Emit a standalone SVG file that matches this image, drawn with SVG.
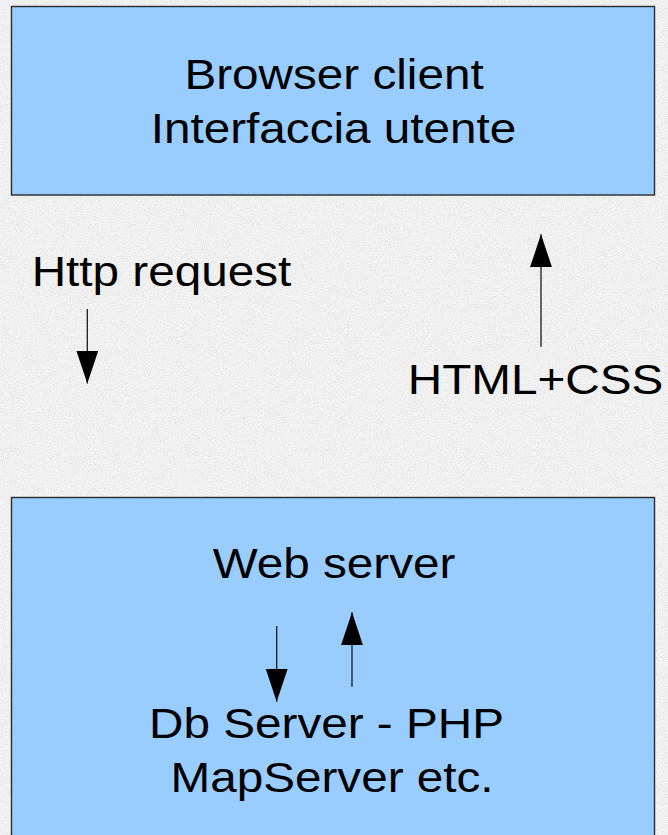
<svg xmlns="http://www.w3.org/2000/svg" width="668" height="835" viewBox="0 0 668 835">
  <style>
    .box { fill: #99ccff; stroke: #2b2b2b; stroke-width: 1.4; }
    .lbl { font-family: "Liberation Sans", Arial, sans-serif; font-size: 42px; fill: #000; text-anchor: middle; }
    .conn { stroke: #1a1a1a; stroke-width: 1.3; fill: none; }
  </style>
  <defs>
    <marker id="head" markerUnits="userSpaceOnUse" markerWidth="34" markerHeight="23" refX="33" refY="11" orient="auto" viewBox="0 0 34 23">
      <path d="M0,0 L33,11 L0,22 Z" fill="#000"/>
    </marker>
    <filter id="grain" x="0" y="0" width="100%" height="100%">
      <feTurbulence type="fractalNoise" baseFrequency="0.85" numOctaves="2" seed="7" result="n"/>
      <feColorMatrix in="n" type="matrix" values="0 0 0 0 0.5  0 0 0 0 0.5  0 0 0 0 0.5  1.2 0 0 0 -0.5"/>
    </filter>
  </defs>

  <rect x="0" y="0" width="668" height="835" fill="#f3f3f3"/>
  <rect x="0" y="0" width="668" height="835" filter="url(#grain)" opacity="0.6"/>

  <g id="browser-client">
    <rect class="box" x="11.5" y="6.5" width="643" height="188.5"/>
    <text class="lbl" transform="translate(334 89) scale(1.135 1)">Browser client</text>
    <text class="lbl" transform="translate(333.5 142.5) scale(1.135 1)">Interfaccia utente</text>
  </g>

  <g id="web-server">
    <rect class="box" x="11.5" y="497.5" width="643" height="345"/>
    <text class="lbl" transform="translate(334 577.5) scale(1.135 1)">Web server</text>
    <text class="lbl" transform="translate(326.5 737.5) scale(1.135 1)">Db Server - PHP</text>
    <text class="lbl" transform="translate(332 792) scale(1.135 1)">MapServer etc.</text>
  </g>

  <g id="label-http-request">
    <text class="lbl" transform="translate(161.5 285.5) scale(1.135 1)">Http request</text>
  </g>
  <g id="label-html-css">
    <text class="lbl" transform="translate(535.5 394) scale(1.135 1)">HTML+CSS</text>
  </g>

  <g id="connectors">
    <line class="conn" x1="87.3" y1="309" x2="87.3" y2="383.5" marker-end="url(#head)"/>
    <line class="conn" x1="541" y1="346.7" x2="541" y2="234.3" marker-end="url(#head)"/>
    <line class="conn" x1="276.7" y1="626" x2="276.7" y2="701.7" marker-end="url(#head)"/>
    <line class="conn" x1="352" y1="686.7" x2="352" y2="612.3" marker-end="url(#head)"/>
  </g>
</svg>
